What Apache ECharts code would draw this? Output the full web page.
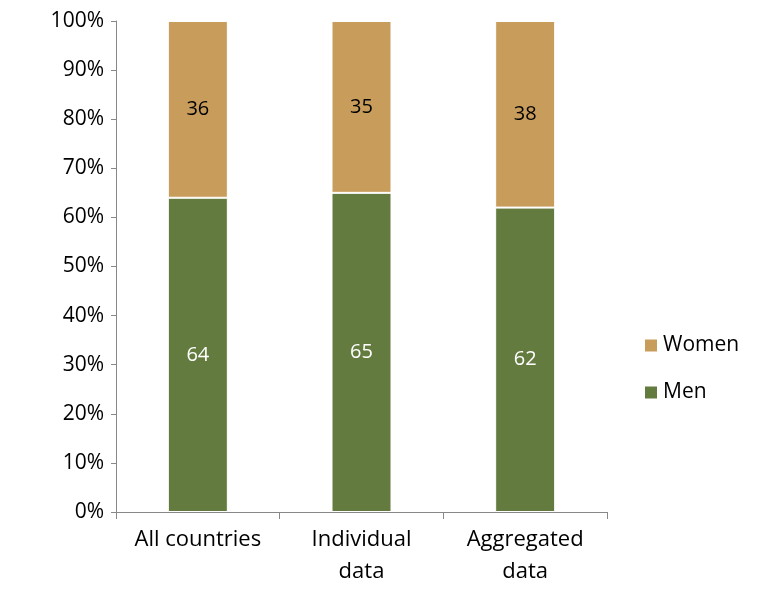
<!DOCTYPE html>
<html><head><meta charset="utf-8">
<script src="https://cdn.jsdelivr.net/npm/echarts@6/dist/echarts.min.js"></script>
<style>html,body{margin:0;background:#fff}#c{width:759px;height:599px}</style>
</head><body><div id="c"></div>
<script>
var categories=['All countries','Individual\ndata','Aggregated\ndata'];
var men=[64,65,62];
var women=[36,35,38];
var font='"Open Sans", "Liberation Sans", sans-serif';
echarts.init(document.getElementById('c')).setOption({
  animation:false,
  textStyle:{fontFamily:font},
  grid:{left:116,right:152,top:21,bottom:87},
  legend:{orient:'vertical',left:638,top:330,itemGap:26,itemWidth:14,itemHeight:14,icon:'rect',
    data:['Women','Men'],textStyle:{fontSize:21,color:'#000',fontFamily:font}},
  xAxis:{type:'category',data:categories,
    axisLine:{lineStyle:{color:'#888'}},axisTick:{show:true,length:7,lineStyle:{color:'#888'}},
    axisLabel:{interval:0,hideOverlap:false,fontSize:22,color:'#000',lineHeight:32,margin:12,fontFamily:font}},
  yAxis:{type:'value',min:0,max:100,interval:10,
    axisLine:{show:true,lineStyle:{color:'#888'}},axisTick:{show:true,length:5,lineStyle:{color:'#888'}},splitLine:{show:false},
    axisLabel:{fontSize:21,color:'#000',formatter:'{value}%',margin:12,fontFamily:font}},
  series:[
    {name:'Men',type:'bar',stack:'a',barWidth:60,data:men,itemStyle:{color:'#647b3f',borderColor:'#fff',borderWidth:1},
      label:{show:true,color:'#fff',fontSize:20,fontFamily:font}},
    {name:'Women',type:'bar',stack:'a',barWidth:60,data:women,itemStyle:{color:'#c89c5a',borderColor:'#fff',borderWidth:1},
      label:{show:true,color:'#000',fontSize:20,fontFamily:font,position:'inside'}}
  ]
});
</script></body></html>
